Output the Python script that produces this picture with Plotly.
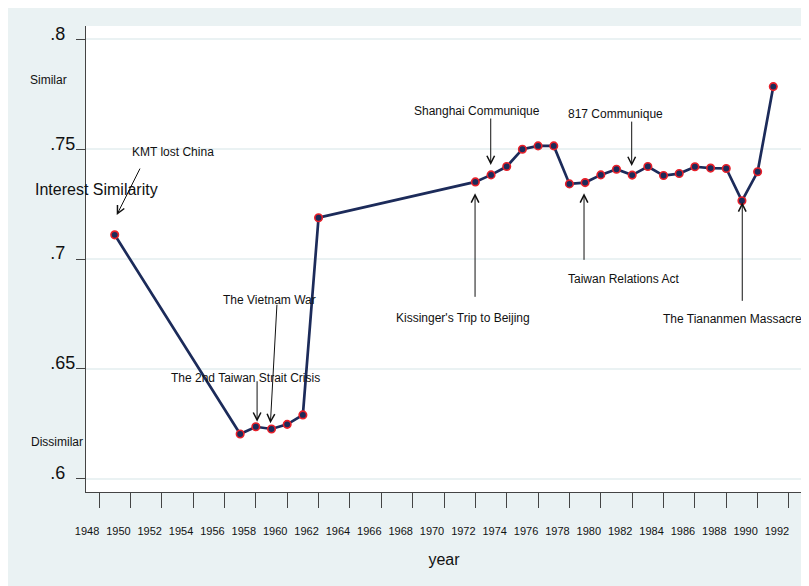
import plotly.graph_objects as go

# ---- data ----
years = [1949, 1957, 1958, 1959, 1960, 1961, 1962, 1972, 1973, 1974, 1975, 1976,
         1977, 1978, 1979, 1980, 1981, 1982, 1983, 1984, 1985, 1986, 1987, 1988,
         1989, 1990, 1991]
similarity = [0.7110, 0.6203, 0.6236, 0.6226, 0.6247, 0.6290, 0.7188, 0.7351,
              0.7383, 0.7421, 0.7500, 0.7515, 0.7515, 0.7342, 0.7348, 0.7383,
              0.7409, 0.7382, 0.7421, 0.7380, 0.7389, 0.7420, 0.7414, 0.7412,
              0.7265, 0.7397, 0.7785]

x_tick_vals = list(range(1948, 1993, 2))
x_tick_text = [str(v) for v in x_tick_vals]
y_tick_vals = [0.6, 0.65, 0.7, 0.75, 0.8]
y_tick_text = [".6\u2007", ".65", ".7\u2007", ".75", ".8\u2007"]

# events: label, label position (year, value), arrow head (year, value), arrow tail offset (px)
event_labels = ["KMT lost China", "The Vietnam War", "The 2nd Taiwan Strait Crisis",
                "Shanghai Communique", "817 Communique", "Kissinger's Trip to Beijing",
                "Taiwan Relations Act", "The Tiananmen Massacre"]
label_x = [1952.72, 1958.84, 1957.37, 1972.13, 1980.93, 1971.20, 1981.47, 1988.40]
label_y = [0.7487, 0.6813, 0.6457, 0.7674, 0.7659, 0.6730, 0.6909, 0.6725]
head_x = [1949.13, 1958.93, 1958.08, 1972.98, 1981.97, 1971.98, 1978.93, 1989.02]
head_y = [0.7200, 0.6252, 0.6259, 0.7428, 0.7423, 0.7299, 0.7299, 0.7258]
tail_dx = [24, 6.6, 0, 0, 0, 0, 0, 0]
tail_dy = [-48, -120, -42, -48, -46, 105, 68, 100]

FONT = "Liberation Sans, Arial, sans-serif"
BG = "#eaf2f3"
NAVY = "#1c2b5a"

fig = go.Figure()
fig.add_trace(go.Scatter(
    x=years, y=similarity, mode="lines+markers",
    line=dict(color=NAVY, width=2.7),
    marker=dict(size=7.5, color=NAVY, line=dict(color="#e8202a", width=1.6)),
    showlegend=False, hoverinfo="x+y",
))

annotations = []
for lab, lx, ly in zip(event_labels, label_x, label_y):
    annotations.append(dict(x=lx, y=ly, xref="x", yref="y", text=lab, showarrow=False,
                            xanchor="center", yanchor="middle",
                            font=dict(family=FONT, size=12, color="#111111")))
for hx, hy, dx, dy in zip(head_x, head_y, tail_dx, tail_dy):
    annotations.append(dict(x=hx, y=hy, xref="x", yref="y", text="", showarrow=True,
                            ax=dx, ay=dy, arrowhead=5, arrowsize=1.5, arrowwidth=1,
                            arrowcolor="#111111", standoff=0, startstandoff=0))

annotations += [
    dict(x=-0.074, y=0.650, xref="paper", yref="paper", text="Interest Similarity",
         showarrow=False, xanchor="left", yanchor="middle",
         font=dict(family=FONT, size=16, color="#111111")),
    dict(x=-0.081, y=0.884, xref="paper", yref="paper", text="Similar",
         showarrow=False, xanchor="left", yanchor="middle",
         font=dict(family=FONT, size=12, color="#111111")),
    dict(x=-0.079, y=0.108, xref="paper", yref="paper", text="Dissimilar",
         showarrow=False, xanchor="left", yanchor="middle",
         font=dict(family=FONT, size=12, color="#111111")),
]

fig.update_layout(
    width=801, height=578,
    margin=dict(l=78, r=7, t=18, b=94, autoexpand=False),
    paper_bgcolor=BG, plot_bgcolor="white",
    annotations=annotations,
    xaxis=dict(
        range=[1947.17, 1992.83], tickvals=x_tick_vals, ticktext=x_tick_text,
        ticks="outside", ticklen=15, tickcolor="#444444", tickwidth=1,
        showline=True, linecolor="#444444", linewidth=1, showgrid=False, zeroline=False,
        tickfont=dict(family=FONT, size=11, color="#111111"), automargin=False,
        ticklabelshift=-12, ticklabelstandoff=14,
        title=dict(text="year", font=dict(family=FONT, size=16, color="#111111"), standoff=17),
    ),
    yaxis=dict(
        range=[0.5939, 0.8061], tickvals=y_tick_vals, ticktext=y_tick_text,
        ticks="outside", ticklen=9, tickcolor="#444444", tickwidth=1,
        showline=True, linecolor="#444444", linewidth=1, automargin=False,
        showgrid=True, gridcolor=BG, gridwidth=1.5, zeroline=False,
        tickfont=dict(family=FONT, size=18, color="#111111"),
        ticklabelshift=-6, ticklabelstandoff=-3,
    ),
)

fig.write_html("out.html")
